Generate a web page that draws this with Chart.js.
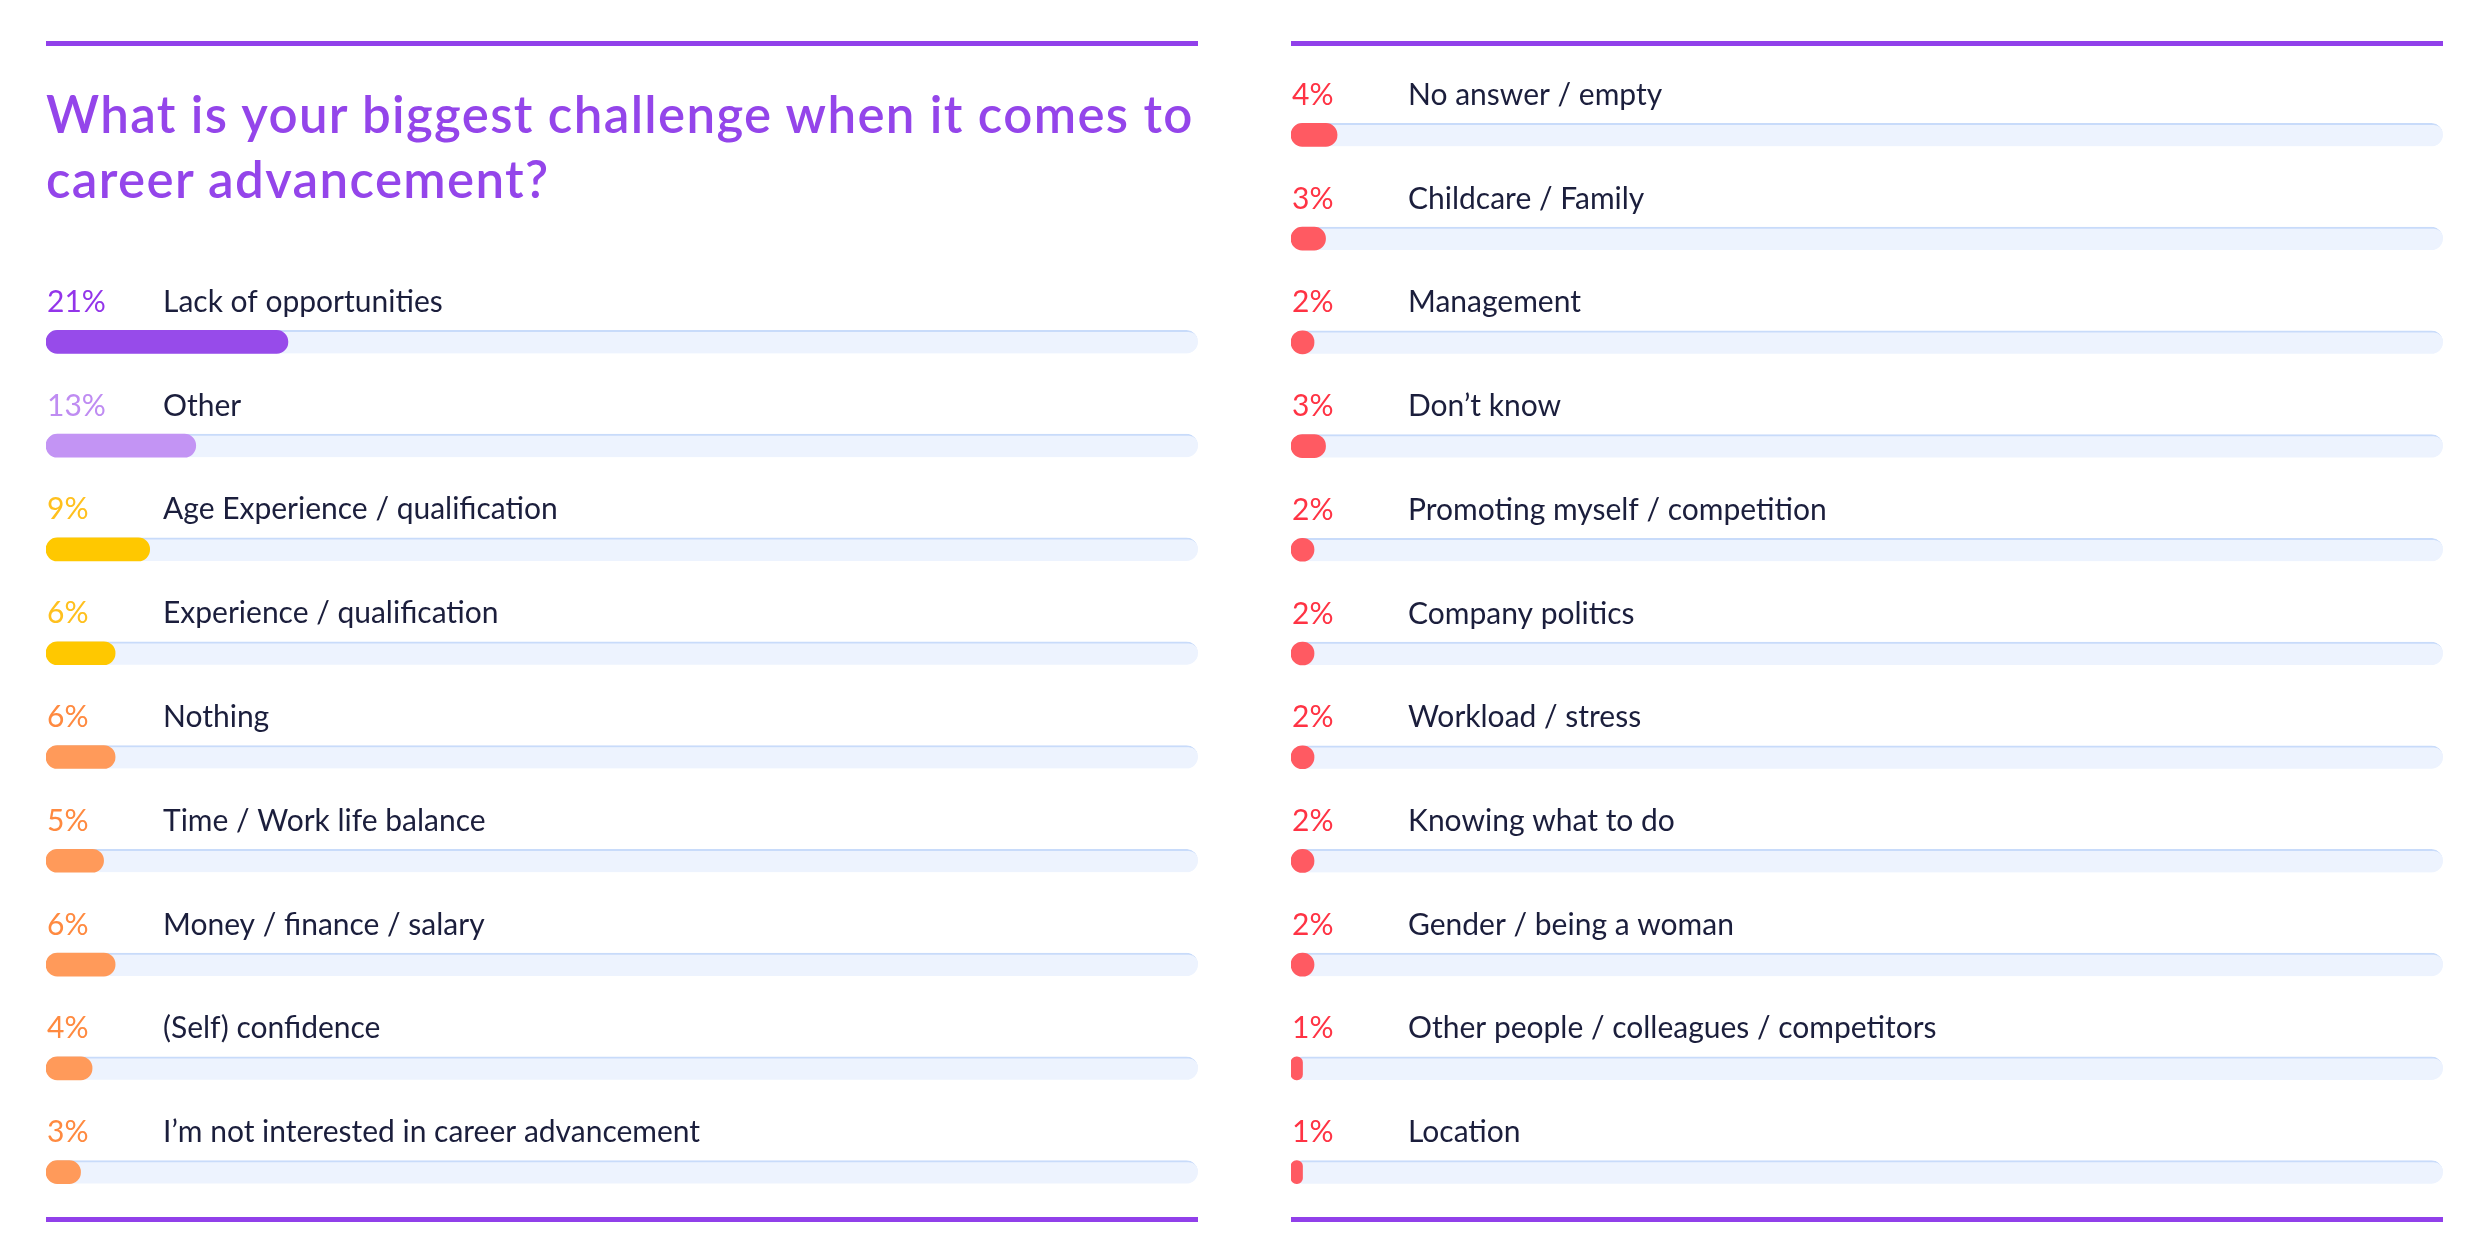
<!DOCTYPE html>
<html>
<head>
<meta charset="utf-8">
<script src="https://cdn.jsdelivr.net/npm/chart.js@4"></script>
<style>
  html, body { margin: 0; padding: 0; background: #ffffff; }
  body { width: 2490px; height: 1245px; position: relative; overflow: hidden; font-family: Lato, "Open Sans", sans-serif; }
  .rule { position: absolute; height: 5px; background: #9140ea; z-index: 5; }
  .title { position: absolute; left: 46px; top: 81px; width: 1200px; font-family: Lato, sans-serif; font-weight: 600; font-size: 51px; line-height: 65px; letter-spacing: 1.35px; color: #9445ea; white-space: nowrap; }
  .box { position: absolute; }
</style>
</head>
<body>
<div class="rule" style="left:46px; top:41px; width:1152px;"></div>
<div class="rule" style="left:1291px; top:41px; width:1152px;"></div>
<div class="rule" style="left:46px; top:1217px; width:1152px;"></div>
<div class="rule" style="left:1291px; top:1217px; width:1152px;"></div>
<div class="title">What is your biggest challenge when it comes to<br>career advancement?</div>

<div class="box" style="left:46px; top:240px; width:1152px; height:984px;"><canvas id="leftChart"></canvas></div>
<div class="box" style="left:1291px; top:40px; width:1152px; height:1184px;"><canvas id="rightChart"></canvas></div>

<script>
// ---- data ----
const leftCategories = [
  "Lack of opportunities",
  "Other",
  "Age Experience / qualification",
  "Experience / qualification",
  "Nothing",
  "Time / Work life balance",
  "Money / finance / salary",
  "(Self) confidence",
  "I\u2019m not interested in career advancement"
];
const leftValues = [21, 13, 9, 6, 6, 5, 6, 4, 3];

const rightCategories = [
  "No answer / empty",
  "Childcare / Family",
  "Management",
  "Don\u2019t know",
  "Promoting myself / competition",
  "Company politics",
  "Workload / stress",
  "Knowing what to do",
  "Gender / being a woman",
  "Other people / colleagues / competitors",
  "Location"
];
const rightValues = [4, 3, 2, 3, 2, 2, 2, 2, 2, 1, 1];

const scaleMax = 100;

// ---- styles ----
const PURPLE = { bar: "#974bea", text: "#9335ea" };
const LILAC  = { bar: "#c394f4", text: "#bf8cf2" };
const YELLOW = { bar: "#ffc800", text: "#ffc01e" };
const ORANGE = { bar: "#ff9a5a", text: "#ff8a40" };
const RED    = { bar: "#ff5a62", text: "#ff3344" };
const leftStyles = [PURPLE, LILAC, YELLOW, YELLOW, ORANGE, ORANGE, ORANGE, ORANGE, ORANGE];
const rightStyles = rightValues.map(() => RED);

const TRACK = "#edf3fe";
const TRACK_EDGE = "#c8dbfa";
const LABEL_COLOR = "#1b1e3c";

const labelPlugin = {
  id: "rowLabels",
  afterDatasetsDraw(chart, args, opts) {
    const ctx = chart.ctx;
    const y = chart.scales.y;
    const left = chart.chartArea.left;
    ctx.save();
    ctx.font = "400 30px Lato, sans-serif";
    ctx.textBaseline = "alphabetic";
    ctx.textAlign = "left";
    chart.data.labels.forEach((lab, i) => {
      const cy = y.getPixelForValue(i);
      const base = cy - 30;
      ctx.fillStyle = opts.styles[i].text;
      ctx.fillText(opts.values[i] + "%", left + 1, base);
      ctx.fillStyle = LABEL_COLOR;
      ctx.fillText(lab, left + 117, base);
    });
    ctx.restore();
  }
};

function makeChart(id, cats, vals, styles, padTop) {
  return new Chart(document.getElementById(id), {
    type: "bar",
    data: {
      labels: cats,
      datasets: [
        {
          data: vals,
          backgroundColor: styles.map(s => s.bar),
          borderRadius: 12,
          borderSkipped: false,
          barThickness: 23,
          grouped: false,
          order: 1
        },
        {
          data: cats.map(() => scaleMax),
          backgroundColor: TRACK,
          borderColor: TRACK_EDGE,
          borderWidth: { top: 2, left: 0, right: 0, bottom: 0 },
          borderRadius: 12,
          borderSkipped: false,
          barThickness: 23,
          grouped: false,
          order: 2
        }
      ]
    },
    options: {
      indexAxis: "y",
      responsive: true,
      maintainAspectRatio: false,
      animation: false,
      events: [],
      layout: { padding: { top: padTop, left: 0, right: 0, bottom: 0 } },
      scales: {
        x: { display: false, min: 0, max: scaleMax },
        y: { display: false, offset: true }
      },
      plugins: {
        legend: { display: false },
        tooltip: { enabled: false },
        rowLabels: { values: vals, styles: styles }
      }
    },
    plugins: [labelPlugin]
  });
}

makeChart("leftChart", leftCategories, leftValues, leftStyles, 50);
makeChart("rightChart", rightCategories, rightValues, rightStyles, 43);
</script>
</body>
</html>
